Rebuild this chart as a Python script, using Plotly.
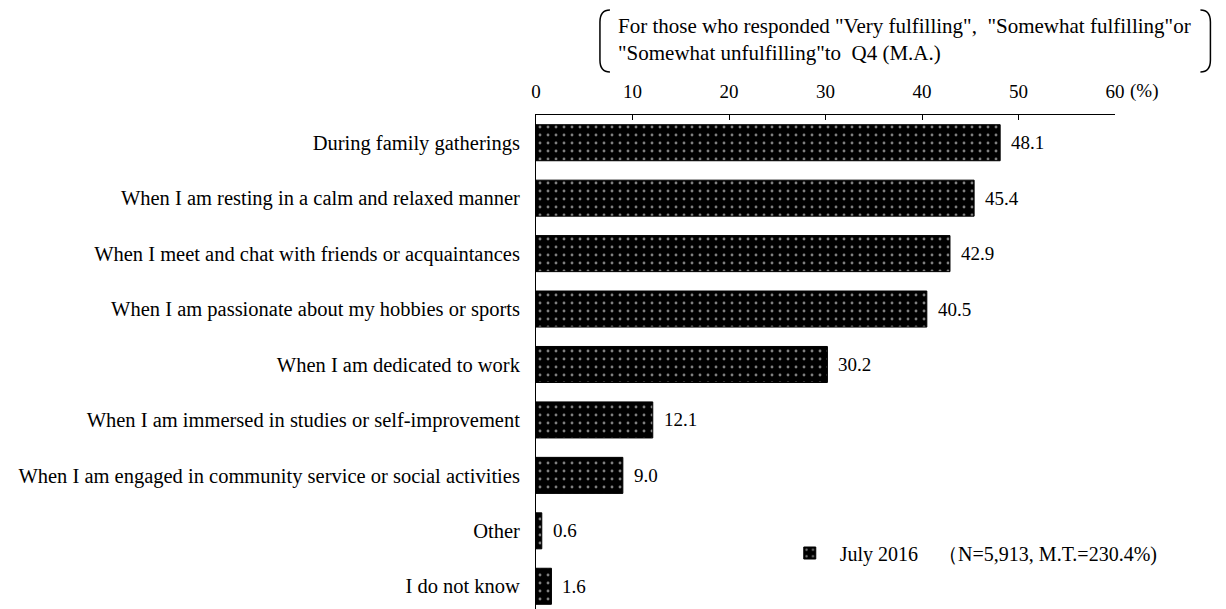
import plotly.graph_objects as go

categories = [
    "During family gatherings",
    "When I am resting in a calm and relaxed manner",
    "When I meet and chat with friends or acquaintances",
    "When I am passionate about my hobbies or sports",
    "When I am dedicated to work",
    "When I am immersed in studies or self-improvement",
    "When I am engaged in community service or social activities",
    "Other",
    "I do not know",
]
values = [48.1, 45.4, 42.9, 40.5, 30.2, 12.1, 9.0, 0.6, 1.6]
series_name = "\u2002July 2016\u3000（N=5,913, M.T.=230.4%)"
x_ticks = [0, 10, 20, 30, 40, 50, 60]
header_lines = [
    'For those who responded "Very fulfilling",  "Somewhat fulfilling"or',
    '"Somewhat unfulfilling"to  Q4 (M.A.)',
]

FONT = "Liberation Serif, Times New Roman, serif"
OFF = 8  # page body margin
W, H = 1226 - OFF, 609 - OFF
L = 536 - OFF
T = 115 - OFF
R = W - (1115.5 - OFF)
B = 0
pw, ph = W - L - R, H - T - B


def px(xs):
    return (xs - OFF - L) / pw


def py(ys):
    return (H - B - (ys - OFF)) / ph


fig = go.Figure()
fig.add_trace(go.Bar(
    x=values,
    y=categories,
    orientation="h",
    name=series_name,
    marker=dict(
        color="black",
        line=dict(color="black", width=1),
        pattern=dict(shape=".", fgcolor="white", bgcolor="black", size=8, solidity=0.1),
    ),
    width=0.65,
    showlegend=True,
    hoverinfo="skip",
))

annotations = []
for c, v in zip(categories, values):
    annotations.append(dict(
        x=v, y=c, xref="x", yref="y", text=f"{v:.1f}", showarrow=False,
        xanchor="left", yanchor="middle", xshift=9,
        font=dict(family=FONT, size=19, color="black"),
    ))

annotations.append(dict(
    x=x_ticks[-1], y=1, xref="x", yref="paper", text="(%)", showarrow=False,
    xanchor="left", yanchor="middle", xshift=13, yshift=24,
    font=dict(family=FONT, size=19, color="black"),
))

annotations.append(dict(
    x=px(616), y=py(40), xref="paper", yref="paper",
    text="<br>".join(header_lines), showarrow=False, align="left",
    xanchor="left", yanchor="middle",
    font=dict(family=FONT, size=21, color="black"),
))

shapes = []
def bracket_path(x_out, x_in, y0, y1, r=12):
    return (f"M {px(x_out)},{py(y0)} Q {px(x_in)},{py(y0)} {px(x_in)},{py(y0 + r)} "
            f"L {px(x_in)},{py(y1 - r)} Q {px(x_in)},{py(y1)} {px(x_out)},{py(y1)}")

shapes.append(dict(type="path", xref="paper", yref="paper",
                   path=bracket_path(610, 600, 10, 72), line=dict(color="black", width=1.5)))
shapes.append(dict(type="path", xref="paper", yref="paper",
                   path=bracket_path(1201, 1211, 10, 72), line=dict(color="black", width=1.5)))

fig.update_layout(
    width=W, height=H,
    margin=dict(l=L, r=R, t=T, b=B, autoexpand=False),
    paper_bgcolor="white", plot_bgcolor="white",
    font=dict(family=FONT, size=20, color="black"),
    bargap=0.35,
    annotations=annotations,
    shapes=shapes,
    legend=dict(
        x=px(790), y=py(553), xanchor="left", yanchor="middle",
        font=dict(family=FONT, size=20, color="black"),
        bgcolor="rgba(0,0,0,0)",
    ),
    xaxis=dict(
        side="top", range=[0, 60], tickvals=x_ticks, ticktext=[str(t) for t in x_ticks],
        ticks="inside", ticklen=5, tickcolor="black", showline=True, linecolor="black",
        linewidth=1, showgrid=False, zeroline=False, ticklabelstandoff=8,
        tickfont=dict(family=FONT, size=19, color="black"), fixedrange=True,
    ),
    yaxis=dict(
        type="category", categoryorder="array", categoryarray=categories,
        range=[8.41, -0.5], showline=True, linecolor="black", linewidth=1,
        showgrid=False, zeroline=False, ticks="", ticklabelstandoff=11,
        tickfont=dict(family=FONT, size=20.5, color="black"), fixedrange=True,
    ),
)

fig.write_html("out.html")
